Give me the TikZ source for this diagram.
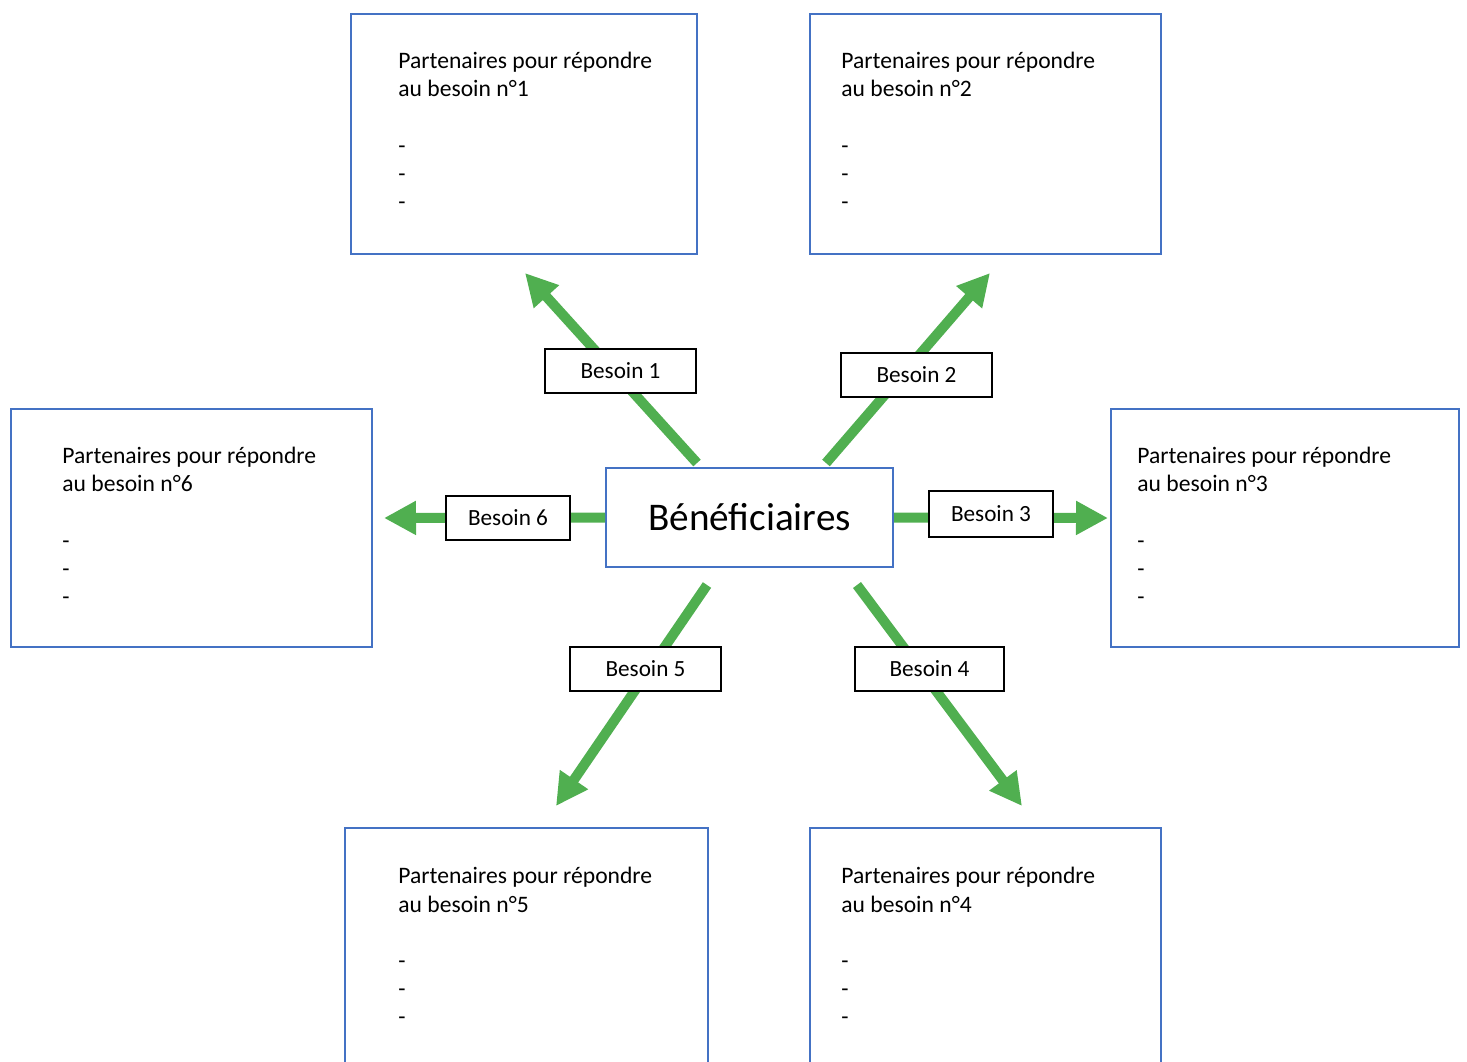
\documentclass[tikz,border=0pt]{standalone}
\usepackage{fontspec}
\setmainfont{Carlito}
\usetikzlibrary{arrows.meta}
\definecolor{arrgreen}{RGB}{80,175,80}
\definecolor{boxblue}{RGB}{68,114,196}
\begin{document}
\begin{tikzpicture}[x=0.5pt,y=-0.5pt,
  partbox/.style={draw=boxblue,line width=1pt,fill=white,anchor=north west,inner sep=0pt},
  parttext/.style={anchor=north west,inner sep=0pt,align=left,font=\fontsize{11.8}{14.1}\selectfont},
  mainbox/.style={draw=boxblue,line width=1pt,fill=white,minimum width=143.5pt,minimum height=49.5pt,inner sep=0pt,font=\fontsize{19.6}{22}\selectfont},
  needbox/.style={draw=black,line width=1pt,fill=white,minimum height=22pt,inner sep=0pt,font=\fontsize{11.6}{14}\selectfont},
  arr/.style={draw=arrgreen,line width=5pt,-{Triangle[width=16pt,length=16pt]}},
]
\useasboundingbox (0,0) rectangle (1467,1061);
% partner boxes
\node[partbox,minimum width=173pt,minimum height=120pt] (p1) at (350,13) {};
\node[partbox,minimum width=175.5pt,minimum height=120pt] (p2) at (809,13) {};
\node[partbox,minimum width=174pt,minimum height=119pt] (p3) at (1110,408) {};
\node[partbox,minimum width=180.5pt,minimum height=119pt] (p6) at (10,408) {};
\node[partbox,minimum width=181.5pt,minimum height=130pt] (p5) at (344,827) {};
\node[partbox,minimum width=175.5pt,minimum height=130pt] (p4) at (809,827) {};
\node[parttext] (t1) at (398,52) {Partenaires pour répondre\\au besoin n°1\\[14.1pt]-\\-\\-};
\node[parttext] (t2) at (841,52) {Partenaires pour répondre\\au besoin n°2\\[14.1pt]-\\-\\-};
\node[parttext] (t3) at (1137,447) {Partenaires pour répondre\\au besoin n°3\\[14.1pt]-\\-\\-};
\node[parttext] (t6) at (62,447) {Partenaires pour répondre\\au besoin n°6\\[14.1pt]-\\-\\-};
\node[parttext] (t5) at (398,867) {Partenaires pour répondre\\au besoin n°5\\[14.1pt]-\\-\\-};
\node[parttext] (t4) at (841,867) {Partenaires pour répondre\\au besoin n°4\\[14.1pt]-\\-\\-};
% centre
\node[mainbox] (ben) at (749.5,517.5) {Bénéficiaires};
% arrow ends
\coordinate (s1) at (697,463); \coordinate (e1) at (525,273);
\coordinate (s2) at (826,463); \coordinate (e2) at (990,273);
\coordinate (s3) at (ben.east); \coordinate (e3) at (1108,518);
\coordinate (s6) at (ben.west); \coordinate (e6) at (384,518);
\coordinate (s5) at (707,585); \coordinate (e5) at (556,806);
\coordinate (s4) at (857,585); \coordinate (e4) at (1022,806);
\foreach \i in {1,2,3,4,5,6} { \draw[arr] (s\i) -- (e\i); }
% need labels
\node[needbox,minimum width=75.5pt] (b1) at (620.5,370.5) {Besoin 1};
\node[needbox,minimum width=75.5pt] (b2) at (916.5,375) {Besoin 2};
\node[needbox,minimum width=62pt,minimum height=23pt] (b3) at (991,514) {Besoin 3};
\node[needbox,minimum width=62pt] (b6) at (508,517.5) {Besoin 6};
\node[needbox,minimum width=75.5pt] (b5) at (645.5,668.5) {Besoin 5};
\node[needbox,minimum width=74.5pt] (b4) at (929.5,668.5) {Besoin 4};
\end{tikzpicture}
\end{document}
